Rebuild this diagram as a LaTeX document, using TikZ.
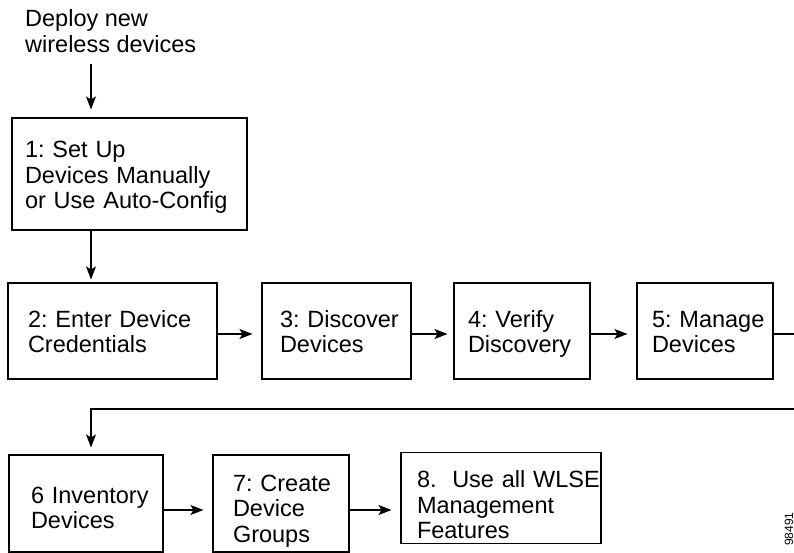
\documentclass[tikz,border=0pt]{standalone}
\usepackage{fontspec}
\setmainfont{Liberation Sans}
\usetikzlibrary{arrows.meta}
\frenchspacing
\newcommand\ftopstrut[1]{\rule{0pt}{#1pt}}
\newcommand\fbotstrut{\rule[-5pt]{0pt}{5pt}}
\begin{document}
\begin{tikzpicture}[x=1pt,y=-1pt,
  txt/.style={font=\fontsize{23.5}{25.5}\selectfont},
  box/.style={txt, draw, line width=1.1pt, rectangle, align=left, inner ysep=0pt},
  arr/.style={line width=1.1pt, -{Stealth[length=13pt,width=10pt,inset=3pt]}},
  ln/.style={line width=1.1pt}]
\useasboundingbox (0,0) rectangle (794,553);

\node[txt, anchor=north west, inner sep=0pt, align=left] (deploy) at (25,9.5) {Deploy new\\wireless devices};

\node[box, minimum width=235pt, minimum height=112pt, text width=209pt, inner xsep=13pt] (b1) at (129.5,174)
  {\ftopstrut{24}\mbox{1: Set Up}\\\mbox{Devices Manually}\\\mbox{or Use Auto-Config}\fbotstrut};
\node[box, minimum width=209pt, minimum height=96pt, text width=169pt, inner xsep=20pt] (b2) at (112.5,331)
  {\ftopstrut{22.5}\mbox{2: Enter Device}\\\mbox{Credentials}\fbotstrut};
\node[box, minimum width=149pt, minimum height=96pt, text width=113pt, inner xsep=18pt] (b3) at (336.5,331)
  {\ftopstrut{22.5}\mbox{3: Discover}\\\mbox{Devices}\fbotstrut};
\node[box, minimum width=136pt, minimum height=96pt, text width=108pt, inner xsep=14pt] (b4) at (522,331)
  {\ftopstrut{22.5}\mbox{4: Verify}\\\mbox{Discovery}\fbotstrut};
\node[box, minimum width=136pt, minimum height=96pt, text width=106pt, inner xsep=15pt] (b5) at (705,331)
  {\ftopstrut{22.5}\mbox{5: Manage}\\\mbox{Devices}\fbotstrut};
\node[box, minimum width=154pt, minimum height=97pt, text width=110pt, inner xsep=22pt] (b6) at (86,503.5)
  {\ftopstrut{29.5}\mbox{6 Inventory}\\\mbox{Devices}\fbotstrut};
\node[box, minimum width=136pt, minimum height=97pt, text width=96pt, inner xsep=20pt] (b7) at (281,503.5)
  {\ftopstrut{31}\mbox{7: Create}\\\mbox{Device}\\\mbox{Groups}\fbotstrut};
\node[box, minimum width=200pt, minimum height=86pt, text width=168pt, inner xsep=16pt] (b8) at (501,498)
  {\ftopstrut{35}\mbox{8.\ \ Use all WLSE}\\\mbox{Management}\\\mbox{Features}\fbotstrut};

\node[font=\fontsize{12}{14}\selectfont, rotate=90, anchor=base, inner sep=0pt] (fig) at (793,529) {98491};

\coordinate (c1) at (91,0);
\coordinate (r2) at (0,334);
\coordinate (r3) at (0,510);
\coordinate (e1) at (794,334);
\coordinate (e2) at (794,409);

\draw[arr, shorten <=11pt, shorten >=8pt] (deploy.south -| c1) -- (b1.north -| c1);
\draw[arr, shorten >=3pt] (b1.south -| c1) -- (b2.north -| c1);
\draw[arr, shorten >=9pt] (b2.east |- r2) -- (b3.west |- r2);
\draw[arr, shorten >=6pt] (b3.east |- r2) -- (b4.west |- r2);
\draw[arr, shorten >=9pt] (b4.east |- r2) -- (b5.west |- r2);
\draw[ln] (b5.east |- r2) -- (e1);
\draw[arr, shorten >=7pt] (e2) -- (e2 -| c1) -- (b6.north -| c1);
\draw[arr, shorten >=9pt] (b6.east |- r3) -- (b7.west |- r3);
\draw[arr, shorten >=9pt] (b7.east |- r3) -- (b8.west |- r3);
\end{tikzpicture}
\end{document}
